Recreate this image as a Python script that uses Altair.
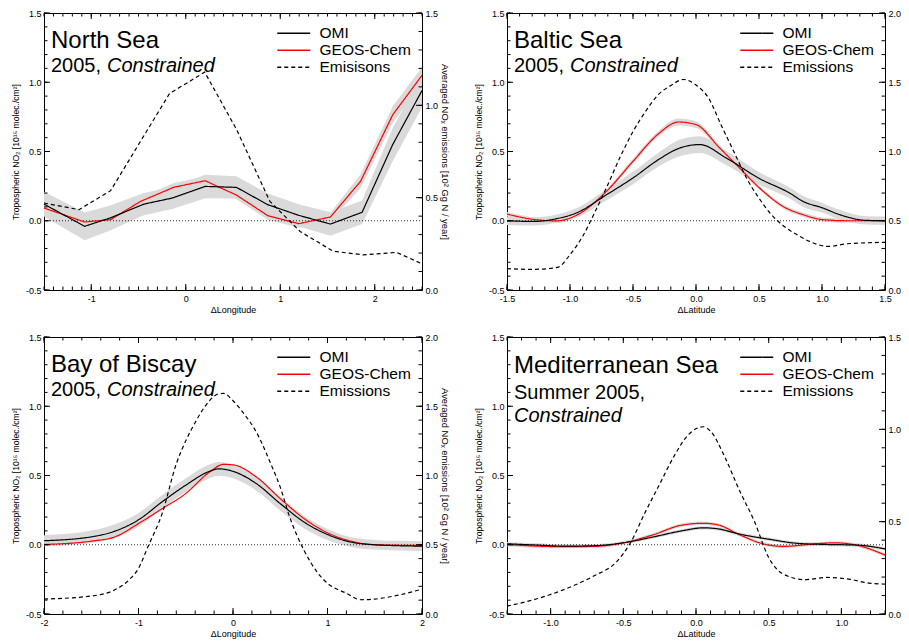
import altair as alt
import pandas as pd

FONT = "Liberation Sans"
GRAY = "#dadada"

# ---------------- North Sea ----------------
NS_OMI_X = [-1.5, -1.07, -0.8, -0.443, -0.143, 0.206, 0.537, 0.868, 1.196, 1.531, 1.866, 2.19, 2.5]
NS_OMI_Y = [0.12, -0.04, 0.02, 0.12, 0.164, 0.248, 0.241, 0.116, 0.039, -0.024, 0.061, 0.55, 0.94]
NS_OMI_E = [0.09, 0.10, 0.09, 0.08, 0.08, 0.085, 0.08, 0.08, 0.08, 0.085, 0.085, 0.12, 0.12]
NS_GC_X = [-1.5, -1.07, -0.795, -0.478, -0.125, 0.206, 0.537, 0.868, 1.196, 1.531, 1.85, 2.19, 2.5]
NS_GC_Y = [0.092, -0.009, 0.008, 0.14, 0.242, 0.289, 0.185, 0.037, -0.021, 0.027, 0.285, 0.765, 1.05]
NS_GC_E = [0.03, 0.03, 0.03, 0.03, 0.03, 0.03, 0.03, 0.03, 0.03, 0.03, 0.05, 0.06, 0.06]
NS_EM_X = [-1.5, -1.13, -0.795, -0.485, -0.17, 0.01, 0.2, 0.54, 0.89, 1.21, 1.56, 1.88, 2.23, 2.5]
NS_EM_Y = [0.471, 0.435, 0.538, 0.80, 1.065, 1.12, 1.18, 0.867, 0.48, 0.317, 0.21, 0.19, 0.204, 0.142]

# ---------------- Baltic Sea ----------------
BS_OMI_X = [-1.5, -1.29, -1.106, -0.95, -0.71, -0.5, -0.3, -0.129, 0.03, 0.24, 0.505, 0.743, 0.849, 1.007, 1.14, 1.35, 1.5]
BS_OMI_Y = [0.0, -0.005, 0.015, 0.056, 0.188, 0.309, 0.44, 0.525, 0.55, 0.453, 0.304, 0.2, 0.14, 0.092, 0.044, 0.003, 0.0]
BS_OMI_E = [0.03, 0.03, 0.03, 0.035, 0.04, 0.045, 0.05, 0.06, 0.06, 0.05, 0.045, 0.04, 0.04, 0.035, 0.035, 0.03, 0.03]
BS_GC_X = [-1.5, -1.29, -1.106, -0.95, -0.71, -0.5, -0.3, -0.14, 0.0, 0.188, 0.32, 0.505, 0.69, 0.849, 1.007, 1.2, 1.5]
BS_GC_Y = [0.048, 0.01, -0.001, 0.039, 0.213, 0.429, 0.626, 0.713, 0.694, 0.525, 0.405, 0.236, 0.104, 0.044, 0.008, 0.0, 0.0]
BS_GC_E = [0.015, 0.015, 0.015, 0.015, 0.015, 0.02, 0.02, 0.025, 0.025, 0.02, 0.02, 0.015, 0.015, 0.015, 0.015, 0.015, 0.015]
BS_EM_X = [-1.5, -1.3, -1.1, -1.0, -0.9, -0.8, -0.7, -0.6, -0.5, -0.4, -0.3, -0.2, -0.1, 0.0, 0.1, 0.2, 0.3, 0.4, 0.5, 0.6, 0.7, 0.8, 0.9, 1.05, 1.2, 1.5]
BS_EM_Y = [0.154, 0.149, 0.163, 0.255, 0.387, 0.567, 0.76, 0.964, 1.144, 1.29, 1.41, 1.476, 1.52, 1.48, 1.385, 1.19, 1.0, 0.81, 0.663, 0.543, 0.459, 0.40, 0.351, 0.315, 0.334, 0.344]

# ---------------- Bay of Biscay ----------------
BB_OMI_X = [-2.0, -1.5, -1.25, -1.0, -0.75, -0.5, -0.25, -0.15, 0.0, 0.25, 0.5, 0.75, 1.0, 1.25, 1.5, 1.75, 2.0]
BB_OMI_Y = [0.029, 0.057, 0.098, 0.18, 0.31, 0.43, 0.53, 0.548, 0.53, 0.44, 0.297, 0.165, 0.074, 0.019, 0.0, -0.007, -0.01]
BB_OMI_E = [0.04, 0.045, 0.05, 0.05, 0.05, 0.05, 0.05, 0.05, 0.05, 0.05, 0.05, 0.045, 0.04, 0.035, 0.035, 0.035, 0.035]
BB_GC_X = [-2.0, -1.5, -1.25, -1.0, -0.75, -0.5, -0.25, -0.1, 0.0, 0.25, 0.5, 0.75, 1.0, 1.25, 1.5, 2.0]
BB_GC_Y = [0.002, 0.026, 0.057, 0.153, 0.26, 0.37, 0.524, 0.58, 0.577, 0.488, 0.333, 0.19, 0.086, 0.026, 0.0, -0.005]
BB_EM_X = [-2.0, -1.5, -1.25, -1.1, -1.0, -0.9, -0.75, -0.6, -0.5, -0.4, -0.3, -0.15, -0.1, 0.0, 0.1, 0.25, 0.4, 0.5, 0.6, 0.75, 0.9, 1.0, 1.2, 1.35, 1.5, 1.75, 2.0]
BB_EM_Y = [0.108, 0.13, 0.175, 0.246, 0.33, 0.486, 0.725, 1.084, 1.25, 1.383, 1.495, 1.59, 1.593, 1.54, 1.46, 1.31, 1.084, 0.916, 0.70, 0.462, 0.294, 0.222, 0.15, 0.103, 0.108, 0.136, 0.18]

# ---------------- Mediterranean Sea ----------------
MS_OMI_X = [-1.3, -1.1, -0.9, -0.7, -0.5, -0.3, -0.1, 0.05, 0.15, 0.3, 0.5, 0.7, 0.9, 1.1, 1.3]
MS_OMI_Y = [0.007, -0.002, -0.01, -0.007, 0.014, 0.055, 0.10, 0.122, 0.115, 0.077, 0.04, 0.01, 0.002, -0.002, -0.03]
MS_OMI_E = [0.012] * 15
MS_GC_X = [-1.3, -1.1, -0.9, -0.7, -0.5, -0.3, -0.1, 0.05, 0.15, 0.3, 0.45, 0.6, 0.8, 0.95, 1.1, 1.3]
MS_GC_Y = [0.002, -0.01, -0.014, -0.012, 0.014, 0.07, 0.141, 0.155, 0.144, 0.072, 0.01, -0.012, 0.005, 0.014, -0.002, -0.074]
MS_GC_E = [0.012] * 16
MS_EM_X = [-1.3, -1.1, -0.9, -0.7, -0.55, -0.45, -0.35, -0.25, -0.15, -0.05, 0.05, 0.1, 0.2, 0.3, 0.4, 0.5, 0.6, 0.75, 0.9, 1.05, 1.2, 1.3]
MS_EM_Y = [0.043, 0.081, 0.135, 0.207, 0.28, 0.387, 0.55, 0.703, 0.856, 0.973, 1.014, 0.99, 0.847, 0.667, 0.505, 0.306, 0.216, 0.186, 0.198, 0.189, 0.166, 0.162]

LEFT_TICKS = [-0.5, 0.0, 0.5, 1.0, 1.5]
LEFT_TITLE = "Tropospheric NO\u2082 [10\u00b9\u2075 molec./cm\u00b2]"
RIGHT_TITLE = "Averaged NO\u2093 emissions [10\u00b2 Gg N / year]"


def steps(lo, hi, step):
    n = int(round((hi - lo) / step))
    return [round(lo + i * step, 4) for i in range(n + 1)]


def fmt_expr(f):
    return "replace(format(datum.value, '%s'), '\u2212', '-')" % f


PANELS = [
    dict(name="North Sea", sub="2005, ", sub_it="Constrained", multiline=False,
         xdom=[-1.5, 2.5], xmajor=[-1, 0, 1, 2], xminor_step=0.1, xfmt="d", xtitle="\u0394Longitude",
         rmax=1.5, interp="linear", em_label="Emisisons",
         omi=(NS_OMI_X, NS_OMI_Y, NS_OMI_E), gc=(NS_GC_X, NS_GC_Y, NS_GC_E), em=(NS_EM_X, NS_EM_Y)),
    dict(name="Baltic Sea", sub="2005, ", sub_it="Constrained", multiline=False,
         xdom=[-1.5, 1.5], xmajor=[-1.5, -1.0, -0.5, 0.0, 0.5, 1.0, 1.5], xminor_step=0.1, xfmt=".1f",
         xtitle="\u0394Latitude", rmax=2.0, interp="monotone", em_label="Emissions",
         omi=(BS_OMI_X, BS_OMI_Y, BS_OMI_E), gc=(BS_GC_X, BS_GC_Y, BS_GC_E), em=(BS_EM_X, BS_EM_Y)),
    dict(name="Bay of Biscay", sub="2005, ", sub_it="Constrained", multiline=False,
         xdom=[-2, 2], xmajor=[-2, -1, 0, 1, 2], xminor_step=0.2, xfmt="d", xtitle="\u0394Longitude",
         rmax=2.0, interp="monotone", em_label="Emissions",
         omi=(BB_OMI_X, BB_OMI_Y, BB_OMI_E), gc=(BB_GC_X, BB_GC_Y, None), em=(BB_EM_X, BB_EM_Y)),
    dict(name="Mediterranean Sea", sub="Summer 2005,", sub_it="Constrained", multiline=True,
         xdom=[-1.3, 1.3], xmajor=[-1.0, -0.5, 0.0, 0.5, 1.0], xminor_step=0.1, xfmt=".1f",
         xtitle="\u0394Latitude", rmax=1.5, interp="monotone", em_label="Emissions",
         omi=(MS_OMI_X, MS_OMI_Y, MS_OMI_E), gc=(MS_GC_X, MS_GC_Y, MS_GC_E), em=(MS_EM_X, MS_EM_Y)),
]

MAJ = 6
MIN = 3.5


def make_panel(p):
    xs = alt.Scale(domain=p["xdom"], nice=False, zero=False)
    ysl = alt.Scale(domain=[-0.5, 1.5], nice=False, zero=False)
    ysr = alt.Scale(domain=[0, p["rmax"]], nice=False, zero=False)
    dom = ["OMI", "GEOS-Chem", p["em_label"]]
    cscale = alt.Scale(domain=dom, range=["black", "red", "black"])
    dscale = alt.Scale(domain=dom, range=[[1, 0], [1, 0], [4, 3]])
    leg = alt.Legend(orient="none", legendX=242, legendY=12.5, title=None, labelFontSize=15.5,
                     labelColor="black", labelFont=FONT, symbolType="M-3,0H3", symbolSize=121,
                     symbolStrokeWidth=1.3, labelOffset=18, rowPadding=-2.5, padding=0)
    X = lambda f: alt.X(f + ":Q", scale=xs, axis=None)
    YL = lambda f: alt.Y(f + ":Q", scale=ysl, axis=None)
    YR = lambda f: alt.Y(f + ":Q", scale=ysr, axis=None)

    layers = []
    ox, oy, oe = p["omi"]
    gx, gy, ge = p["gc"]
    ex, ey = p["em"]
    if ge is not None:
        dgb = pd.DataFrame({"x": gx, "lo": [a - b for a, b in zip(gy, ge)], "hi": [a + b for a, b in zip(gy, ge)]})
        layers.append(alt.Chart(dgb).mark_area(color=GRAY, interpolate=p["interp"]).encode(
            x=X("x"), y=YL("lo"), y2="hi:Q"))
    dob = pd.DataFrame({"x": ox, "lo": [a - b for a, b in zip(oy, oe)], "hi": [a + b for a, b in zip(oy, oe)]})
    layers.append(alt.Chart(dob).mark_area(color=GRAY, interpolate=p["interp"]).encode(
        x=X("x"), y=YL("lo"), y2="hi:Q"))
    zero_df = pd.DataFrame({"a": [p["xdom"][0]], "b": [p["xdom"][1]], "z": [0.0]})
    layers.append(alt.Chart(zero_df).mark_rule(
        color="black", strokeDash=[1, 2], strokeWidth=0.8).encode(x=X("a"), x2="b:Q", y=YL("z")))

    dl = pd.concat([
        pd.DataFrame({"x": gx, "y": gy, "s": "GEOS-Chem"}),
        pd.DataFrame({"x": ox, "y": oy, "s": "OMI"}),
    ])
    layers.append(alt.Chart(dl).mark_line(strokeWidth=1.2, interpolate=p["interp"]).encode(
        x=X("x"), y=YL("y"),
        color=alt.Color("s:N", scale=cscale, legend=leg),
        strokeDash=alt.StrokeDash("s:N", scale=dscale, legend=leg)))
    de = pd.DataFrame({"x": ex, "y": ey, "s": p["em_label"]})
    layers.append(alt.Chart(de).mark_line(strokeWidth=1.2, interpolate=p["interp"]).encode(
        x=X("x"), y=YR("y"),
        color=alt.Color("s:N", scale=cscale, legend=leg),
        strokeDash=alt.StrokeDash("s:N", scale=dscale, legend=leg)))

    # inward tick marks on all four edges
    xminor = steps(p["xdom"][0], p["xdom"][1], p["xminor_step"])
    lminor = steps(-0.5, 1.5, 0.1)
    rmajor = steps(0, p["rmax"], 0.5)
    rminor = steps(0, p["rmax"], 0.1)

    def xticks(vals, edge, size, sign):
        d = pd.DataFrame({"v": vals, "w": [edge] * len(vals)})
        return alt.Chart(d).mark_tick(orient="vertical", size=size, thickness=1, color="black",
                                      opacity=1, yOffset=sign * size / 2).encode(x=X("v"), y=YL("w"))

    def yticks(vals, edge, size, sign, Y):
        d = pd.DataFrame({"v": [edge] * len(vals), "w": vals})
        return alt.Chart(d).mark_tick(orient="horizontal", size=size, thickness=1, color="black",
                                      opacity=1, xOffset=sign * size / 2).encode(x=X("v"), y=Y("w"))

    layers.append(xticks(p["xmajor"], -0.5, MAJ, -1))
    layers.append(xticks(xminor, -0.5, MIN, -1))
    layers.append(xticks(p["xmajor"], 1.5, MAJ, 1))
    layers.append(xticks(xminor, 1.5, MIN, 1))
    layers.append(yticks(LEFT_TICKS, p["xdom"][0], MAJ, 1, YL))
    layers.append(yticks(lminor, p["xdom"][0], MIN, 1, YL))
    layers.append(yticks(rmajor, p["xdom"][1], MAJ, -1, YR))
    layers.append(yticks(rminor, p["xdom"][1], MIN, -1, YR))

    # labelled axes
    dummy = pd.DataFrame({"v": [p["xdom"][0]], "w": [0.0]})

    def al(xaxis, yaxis, ysc):
        return alt.Chart(dummy).mark_point(opacity=0).encode(
            x=alt.X("v:Q", scale=xs, axis=xaxis), y=alt.Y("w:Q", scale=ysc, axis=yaxis))

    lab_x = alt.Axis(orient="bottom", values=p["xmajor"], labelExpr=fmt_expr(p["xfmt"]),
                     ticks=False, domain=False, grid=False, labelFontSize=9, labelPadding=4,
                     labelFlush=False, labelOverlap=False, labelColor="black", labelFont=FONT,
                     title=p["xtitle"], titleFontSize=9, titleFontWeight="normal",
                     titlePadding=2, titleColor="black", titleFont=FONT)
    lab_l = alt.Axis(orient="left", values=LEFT_TICKS, labelExpr=fmt_expr(".1f"),
                     ticks=False, domain=False, grid=False, labelFontSize=9, labelPadding=3,
                     labelFlush=False, labelOverlap=False, labelColor="black", labelFont=FONT,
                     title=LEFT_TITLE, titleFontSize=8.6, titleFontWeight="normal",
                     titlePadding=5, titleColor="black", titleFont=FONT)
    lab_r = alt.Axis(orient="right", values=rmajor, labelExpr=fmt_expr(".1f"),
                     ticks=False, domain=False, grid=False, labelFontSize=9, labelPadding=3,
                     labelFlush=False, labelOverlap=False, labelColor="black", labelFont=FONT,
                     title=RIGHT_TITLE, titleFontSize=9.4, titleFontWeight="normal",
                     titlePadding=2, titleColor="black", titleFont=FONT)
    layers.append(al(lab_x, lab_l, ysl))
    layers.append(al(None, lab_r, ysr))

    # titles anchored at the top-left corner of the plot, offset in pixels
    corner = pd.DataFrame({"v": [p["xdom"][0]], "w": [1.5]})

    def txt(t, dx, dy, size, style="normal"):
        return alt.Chart(corner.assign(t=t)).mark_text(
            align="left", baseline="alphabetic", fontSize=size, font=FONT, fontStyle=style,
            color="black", dx=dx, dy=dy).encode(x=X("v"), y=YL("w"), text="t:N")

    if p["multiline"]:
        layers.append(txt(p["name"], 7, 35.5, 24))
        layers.append(txt(p["sub"], 7, 61.5, 20))
        layers.append(txt(p["sub_it"], 7, 84.5, 20, "italic"))
    else:
        layers.append(txt(p["name"], 7, 34.5, 24))
        layers.append(txt(p["sub"], 7, 58.5, 20))
        layers.append(txt(p["sub_it"], 63, 58.5, 20, "italic"))

    return alt.layer(*layers).resolve_scale(x="independent", y="independent").properties(
        width=378, height=277)


panels = [make_panel(p) for p in PANELS]

chart = alt.concat(*panels, columns=2, spacing={"row": 47, "column": 85}, bounds="flush").resolve_scale(
    color="independent", strokeDash="independent").properties(
    padding={"left": 2, "top": 0, "right": -13, "bottom": 0}).configure(font=FONT).configure_view(
    stroke="black", strokeWidth=1)

chart.save("out.html", embed_options={"renderer": "svg", "actions": False})
